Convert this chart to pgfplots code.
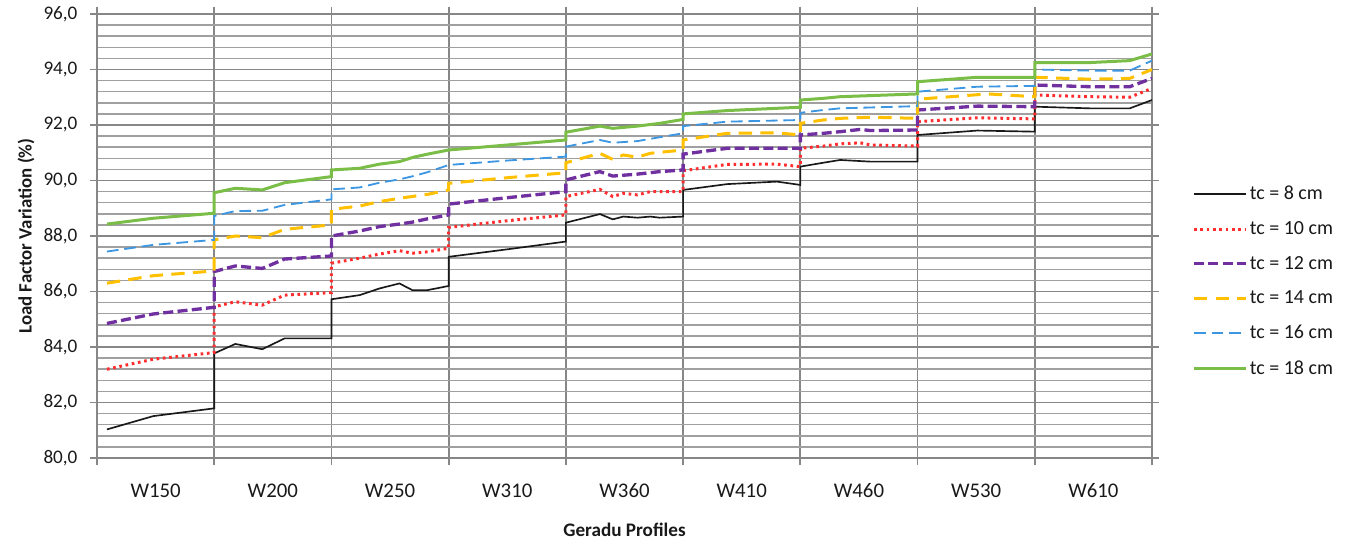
\documentclass[border=0pt]{standalone}
\usepackage{fontspec}
\setmainfont{Carlito}
\usepackage{pgfplots}
\pgfplotsset{compat=1.18}
\definecolor{cblack}{RGB}{25,25,25}
\definecolor{cred}{RGB}{255,45,45}
\definecolor{cpurple}{RGB}{112,48,160}
\definecolor{corange}{RGB}{255,192,0}
\definecolor{cblue}{RGB}{60,150,225}
\definecolor{cgreen}{RGB}{122,190,72}
\definecolor{gmaj}{RGB}{135,135,135}
\definecolor{gmin}{RGB}{160,160,160}
\definecolor{txt}{RGB}{25,25,25}
\begin{document}
\begin{tikzpicture}
\begin{axis}[
  scale only axis, width=633pt, height=266.4pt,
  xmin=0, xmax=9, ymin=80, ymax=96,
  xtick={0,...,9}, xticklabels={},
  extra x ticks={0.5,1.5,2.5,3.5,4.5,5.5,6.5,7.5,8.5},
  extra x tick labels={W150,W200,W250,W310,W360,W410,W460,W530,W610},
  extra x tick style={grid=none, major tick length=0pt},
  xticklabel style={font=\fontsize{12.5}{14}\selectfont, text=txt, yshift=-12pt},
  ytick={80,82,...,96}, minor y tick num=4,
  xmajorgrids, ymajorgrids, yminorgrids,
  major grid style={draw=gmaj, line width=1.1pt},
  minor grid style={draw=gmin, line width=0.85pt},
  axis line style={draw=gmaj, line width=1.1pt},
  tick style={draw=gmaj, line width=1.1pt},
  tick align=outside, major tick length=4.2pt, minor tick length=0pt,
  /pgf/number format/assume math mode=true,
  yticklabel style={/pgf/number format/.cd, fixed, fixed zerofill, precision=1, use comma, /tikz/.cd, font=\fontsize{11.5}{13}\selectfont, text=txt, xshift=-4pt},
  ylabel={Load Factor Variation (\%)},
  ylabel style={at={(axis description cs:-0.0673,0.5)}, anchor=center, font=\bfseries\fontsize{11.3}{13}\selectfont, text=txt},
  xlabel={Geradu Profiles},
  xlabel style={at={(axis description cs:0.5,-0.162)}, anchor=center, font=\bfseries\fontsize{11.5}{13}\selectfont, text=txt},
  legend style={at={(axis description cs:1,0.398)}, anchor=west, xshift=24pt, draw=none, fill=none, inner sep=0pt, row sep=8.5pt, font=\fontsize{12}{14}\selectfont, text=txt, nodes={inner sep=1.5pt}},
  legend cell align=left,
  legend image code/.code={\draw[#1] (0pt,0pt) -- (31pt,0pt);},
]
\addplot[cblack, line width=1pt] coordinates {
(0.085,81.03) (0.48,81.51) (1.0,81.79) (1.0,83.77) (1.18,84.11) (1.41,83.92) (1.60,84.31) (2.0,84.31)
(2.0,85.72) (2.24,85.87) (2.41,86.11) (2.58,86.29) (2.69,86.05) (2.82,86.05) (3.0,86.20)
(3.0,87.25) (3.5,87.52) (4.0,87.80)
(4.0,88.48) (4.29,88.79) (4.40,88.60) (4.49,88.70) (4.61,88.66) (4.72,88.70) (4.80,88.66) (5.0,88.70)
(5.0,89.66) (5.375,89.87) (5.80,89.96) (6.0,89.84)
(6.0,90.50) (6.195,90.64) (6.34,90.74) (6.60,90.68) (7.0,90.68)
(7.0,91.64) (7.51,91.80) (8.0,91.76)
(8.0,92.66) (8.47,92.60) (8.81,92.60) (9.0,92.90)};
\addlegendentry{tc = 8 cm}
\addplot[cred, line width=1.8pt, dash pattern=on 1.6pt off 2.2pt] coordinates {
(0.085,83.20) (0.48,83.56) (1.0,83.80) (1.0,85.45) (1.18,85.63) (1.41,85.51) (1.60,85.87) (2.0,85.96)
(2.0,87.02) (2.24,87.20) (2.41,87.35) (2.58,87.47) (2.69,87.38) (2.82,87.43) (3.0,87.56)
(3.0,88.31) (3.5,88.55) (4.0,88.76)
(4.0,89.42) (4.29,89.68) (4.40,89.42) (4.49,89.54) (4.61,89.48) (4.72,89.60) (5.0,89.60)
(5.0,90.35) (5.375,90.58) (5.80,90.59) (6.0,90.50)
(6.0,91.16) (6.195,91.24) (6.34,91.32) (6.51,91.36) (6.60,91.28) (7.0,91.24)
(7.0,92.12) (7.51,92.26) (8.0,92.22)
(8.0,93.08) (8.47,93.02) (8.81,93.00) (9.0,93.32)};
\addlegendentry{tc = 10 cm}
\addplot[cpurple, line width=2pt, dash pattern=on 6pt off 2.6pt] coordinates {
(0.085,84.85) (0.48,85.19) (1.0,85.43) (1.0,86.72) (1.18,86.92) (1.41,86.83) (1.60,87.17) (2.0,87.28)
(2.0,88.00) (2.24,88.18) (2.41,88.34) (2.58,88.43) (2.69,88.50) (2.82,88.62) (3.0,88.76)
(3.0,89.15) (3.5,89.38) (4.0,89.60)
(4.0,90.02) (4.29,90.32) (4.40,90.16) (4.61,90.23) (4.80,90.32) (5.0,90.38)
(5.0,90.95) (5.375,91.16) (6.0,91.16)
(6.0,91.64) (6.195,91.70) (6.34,91.76) (6.51,91.84) (6.60,91.80) (7.0,91.82)
(7.0,92.54) (7.51,92.68) (8.0,92.66)
(8.0,93.44) (8.47,93.38) (8.81,93.38) (9.0,93.68)};
\addlegendentry{tc = 12 cm}
\addplot[corange, line width=1.8pt, dash pattern=on 8pt off 5pt] coordinates {
(0.085,86.30) (0.48,86.57) (1.0,86.74) (1.0,87.86) (1.18,88.00) (1.41,87.94) (1.60,88.24) (2.0,88.40)
(2.0,88.96) (2.24,89.08) (2.41,89.24) (2.58,89.36) (2.82,89.50) (3.0,89.66)
(3.0,89.90) (3.5,90.10) (4.0,90.28)
(4.0,90.64) (4.29,90.98) (4.40,90.76) (4.49,90.92) (4.61,90.84) (4.72,90.98) (5.0,91.10)
(5.0,91.46) (5.375,91.70) (5.80,91.72) (6.0,91.64)
(6.0,92.06) (6.195,92.18) (6.34,92.24) (6.60,92.28) (7.0,92.24)
(7.0,92.93) (7.6,93.12) (8.0,93.02)
(8.0,93.72) (8.47,93.65) (8.81,93.68) (9.0,94.00)};
\addlegendentry{tc = 14 cm}
\addplot[cblue, line width=1.1pt, dash pattern=on 7pt off 3.5pt] coordinates {
(0.085,87.44) (0.48,87.68) (1.0,87.86) (1.0,88.72) (1.18,88.90) (1.41,88.91) (1.60,89.12) (2.0,89.32)
(2.0,89.68) (2.24,89.75) (2.41,89.92) (2.58,90.04) (2.69,90.15) (2.82,90.30) (3.0,90.56)
(3.5,90.72) (4.0,90.86)
(4.0,91.22) (4.29,91.46) (4.40,91.36) (4.61,91.42) (4.80,91.56) (5.0,91.70)
(5.0,91.96) (5.375,92.12) (6.0,92.18)
(6.0,92.44) (6.195,92.54) (6.34,92.60) (7.0,92.68)
(7.0,93.20) (7.51,93.38) (8.0,93.41)
(8.0,94.00) (8.47,93.96) (8.81,93.96) (9.0,94.32)};
\addlegendentry{tc = 16 cm}
\addplot[cgreen, line width=1.8pt] coordinates {
(0.085,88.43) (0.48,88.64) (1.0,88.82) (1.0,89.56) (1.18,89.72) (1.41,89.66) (1.60,89.92) (2.0,90.14)
(2.0,90.38) (2.24,90.44) (2.41,90.59) (2.58,90.68) (2.70,90.84) (2.82,90.95) (3.0,91.10)
(3.5,91.28) (4.0,91.46)
(4.0,91.74) (4.29,91.96) (4.40,91.88) (4.61,91.96) (4.80,92.06) (5.0,92.20)
(5.0,92.40) (5.375,92.52) (6.0,92.64)
(6.0,92.90) (6.195,92.96) (6.34,93.02) (7.0,93.12)
(7.0,93.56) (7.51,93.72) (8.0,93.72)
(8.0,94.25) (8.47,94.25) (8.81,94.32) (9.0,94.56)};
\addlegendentry{tc = 18 cm}
\end{axis}
\pgfresetboundingbox
\path (current axis.south west) +(-58.2pt,-49.2pt) (current axis.north east) +(118.8pt,8.4pt);
\end{tikzpicture}
\end{document}
